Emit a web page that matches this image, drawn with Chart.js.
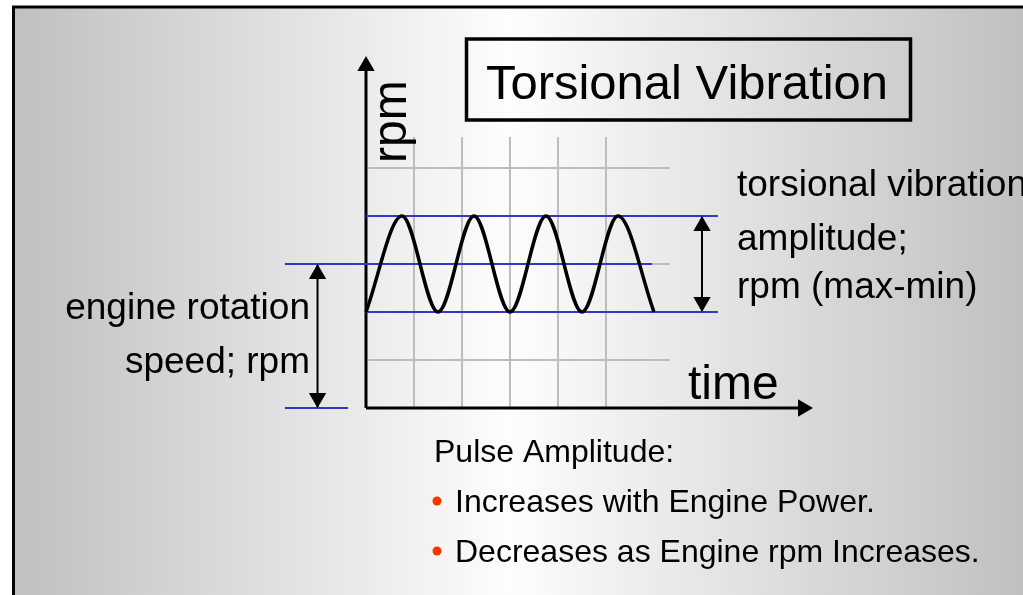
<!DOCTYPE html>
<html>
<head>
<meta charset="utf-8">
<script src="https://cdn.jsdelivr.net/npm/chart.js@4"></script>
<style>
  html, body { margin: 0; padding: 0; background: #fff; }
  #wrap { position: relative; width: 1023px; height: 595px; }
</style>
</head>
<body>
<div id="wrap"><canvas id="vib"></canvas></div>
<script>
// wave: peaks and troughs (time units = one grid cell)
const curveX = [0, 0.75, 1.5, 2.25, 3, 3.75, 4.5, 5.25, 6];
const curveY = [2, 4, 2, 4, 2, 4, 2, 4, 2];

// blue reference levels: max, mean, min, zero
const levelY = [4, 3, 2, 0];
const levelFrom = [0, -1.69, 0, -1.69];
const levelTo = [7.33, 5.96, 7.33, -0.375];

// dimension arrows (vertical shafts)
const arrowX = [-1.01, 7.0];
const arrowFrom = [0, 2];
const arrowTo = [3, 4];

// axis ends
const axisXEnd = 9.31;
const axisYEnd = 7.2;

// arrow heads
const headX = [0, 9.104, 7.0, 7.0, -1.01, -1.01];
const headY = [7.125, 0, 3.79, 2.21, 2.79, 0.21];
const headRot = [0, 90, 0, 180, 0, 180];

const FONT = '"Liberation Sans", Arial, Helvetica, sans-serif';
const GRID = '#bdbdbd';
const BLUE = '#3535c8';

function seg(x1, y1, x2, y2, color, width, order) {
  return {
    type: 'line',
    data: [{x: x1, y: y1}, {x: x2, y: y2}],
    borderColor: color,
    borderWidth: width,
    pointRadius: 0,
    clip: false,
    order: order
  };
}

const datasets = [];

datasets.push({
  type: 'line',
  label: 'rpm',
  data: curveX.map((x, i) => ({x: x, y: curveY[i]})),
  borderColor: '#000',
  borderWidth: 3.5,
  cubicInterpolationMode: 'monotone',
  pointRadius: 0,
  clip: false,
  order: 1
});

levelY.forEach((y, i) => datasets.push(seg(levelFrom[i], y, levelTo[i], y, BLUE, 2, 2)));
arrowX.forEach((x, i) => datasets.push(seg(x, arrowFrom[i], x, arrowTo[i], '#000', 2, 3)));
datasets.push(seg(0, 0, axisXEnd - 0.2, 0, '#000', 3, 3));
datasets.push(seg(0, 0, 0, axisYEnd, '#000', 3, 3));

const HEADS = datasets.length;
datasets.push({
  type: 'scatter',
  data: headX.map((x, i) => ({x: x, y: headY[i]})),
  pointStyle: 'triangle',
  pointRadius: 10,
  pointRotation: headRot,
  pointBackgroundColor: '#000',
  pointBorderWidth: 0,
  clip: false,
  order: 0
});

const backdrop = {
  id: 'backdrop',
  beforeDraw(chart) {
    const ctx = chart.ctx;
    const w = chart.width, h = chart.height;
    ctx.save();
    ctx.fillStyle = '#fff';
    ctx.fillRect(0, 0, w, h);
    const g = ctx.createLinearGradient(14, 0, w, 0);
    g.addColorStop(0, '#c0c0c0');
    g.addColorStop(0.49, '#fdfdfd');
    g.addColorStop(1, '#c0c0c0');
    ctx.fillStyle = g;
    ctx.fillRect(14, 7, w, h);
    ctx.strokeStyle = '#000';
    ctx.lineWidth = 3;
    ctx.strokeRect(13.5, 7, w + 10, h + 10);
    ctx.restore();
  }
};

// the point elements sit outside the chart area, which Chart.js skips; draw them here
const heads = {
  id: 'heads',
  afterDatasetsDraw(chart) {
    const ctx = chart.ctx;
    const everywhere = {left: -1e4, top: -1e4, right: 1e4, bottom: 1e4};
    ctx.save();
    chart.getDatasetMeta(HEADS).data.forEach(p => p.draw(ctx, everywhere));
    ctx.restore();
  }
};

const labels = {
  id: 'labels',
  afterDraw(chart) {
    const ctx = chart.ctx;
    ctx.save();
    ctx.fillStyle = '#000';
    ctx.textBaseline = 'alphabetic';

    // title box
    ctx.strokeStyle = '#000';
    ctx.lineWidth = 3.5;
    ctx.strokeRect(466.5, 39, 444, 81);
    ctx.font = '49px ' + FONT;
    ctx.textAlign = 'center';
    ctx.fillText('Torsional Vibration', 687, 99);

    // axis titles
    ctx.font = '48px ' + FONT;
    ctx.textAlign = 'left';
    ctx.fillText('time', 688, 399);
    ctx.save();
    ctx.translate(406, 163);
    ctx.rotate(-Math.PI / 2);
    ctx.fillText('rpm', 0, 0);
    ctx.restore();

    ctx.font = '37px ' + FONT;
    ctx.fillText('torsional vibration', 737, 196);
    ctx.fillText('amplitude;', 737, 250);
    ctx.fillText('rpm (max-min)', 737, 298);

    ctx.textAlign = 'right';
    ctx.fillText('engine rotation', 310, 319);
    ctx.fillText('speed; rpm', 310, 373);

    ctx.textAlign = 'left';
    ctx.font = '32px ' + FONT;
    ctx.fillText('Pulse Amplitude:', 434, 462);
    ctx.fillText('Increases with Engine Power.', 455, 512);
    ctx.fillText('Decreases as Engine rpm Increases.', 455, 562);

    ctx.fillStyle = '#ff3300';
    [501, 551].forEach(y => {
      ctx.beginPath();
      ctx.arc(437, y, 4.5, 0, Math.PI * 2);
      ctx.fill();
    });
    ctx.restore();
  }
};

const gridColor = c => (c.tick && Number.isInteger(c.tick.value) && c.tick.value !== 0) ? GRID : 'rgba(0,0,0,0)';

new Chart(document.getElementById('vib'), {
  data: {datasets: datasets},
  options: {
    responsive: true,
    maintainAspectRatio: false,
    animation: false,
    layout: {padding: {left: 366, right: 353, top: 137, bottom: 187}},
    plugins: {legend: {display: false}, tooltip: {enabled: false}},
    scales: {
      x: {
        type: 'linear',
        min: 0,
        max: 6.333,
        ticks: {display: false, stepSize: 1},
        border: {display: false},
        grid: {drawTicks: false, color: gridColor, lineWidth: 2}
      },
      y: {
        type: 'linear',
        min: 0,
        max: 5.646,
        ticks: {display: false, stepSize: 1},
        border: {display: false},
        grid: {drawTicks: false, color: gridColor, lineWidth: 2}
      }
    }
  },
  plugins: [backdrop, heads, labels]
});
</script>
</body>
</html>
